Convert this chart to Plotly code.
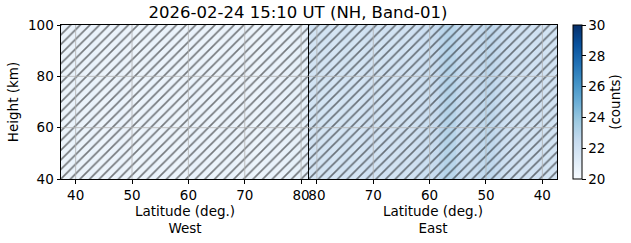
import plotly.graph_objects as go
import plotly.colors as pc

# ---- data ----
title_text = "2026-02-24 15:10 UT (NH, Band-01)"
lat_edges = [37.4 + i for i in range(45)]           # 1-degree latitude bins (edges)
height_edges = [40, 100]                             # single height layer (km)
west_counts = [20.6, 20.6, 20.7, 20.6, 20.6, 20.7, 20.6, 20.5, 20.6, 20.6, 20.7,
               20.6, 20.6, 20.5, 20.6, 20.6, 20.7, 20.6, 20.6, 20.6, 20.5, 20.6,
               20.6, 20.7, 20.6, 20.6, 20.6, 20.5, 20.6, 20.6, 20.7, 20.6, 20.6,
               20.6, 20.5, 20.6, 20.7, 20.7, 20.6, 20.7, 20.8, 20.8, 20.8, 20.9]
east_counts = [21.9, 21.8, 21.9, 22.0, 21.9, 22.0, 21.9, 22.0, 22.1, 22.2, 22.5,
               22.7, 22.8, 22.6, 22.4, 22.3, 22.4, 22.6, 22.9, 23.0, 22.8, 22.5,
               22.3, 22.2, 22.1, 22.0, 21.9, 22.0, 21.8, 21.9, 22.0, 21.8, 21.9,
               22.0, 21.9, 21.7, 21.8, 21.9, 21.8, 21.7, 21.9, 21.8, 21.9, 21.9]
x_ticks = [40, 50, 60, 70, 80]
y_ticks = [40, 60, 80, 100]
cbar_ticks = [20, 22, 24, 26, 28, 30]
z_min, z_max = 20, 30
lat_range = [37.4, 81.4]

blues = pc.sequential.Blues
scale = [[i / (len(blues) - 1), c] for i, c in enumerate(blues)]

FONT = "DejaVu Sans"
fs = 13.5

fig = go.Figure()
fig.add_trace(go.Heatmap(x=lat_edges, y=height_edges, z=[west_counts], colorscale=scale,
                         zmin=z_min, zmax=z_max, xaxis="x", yaxis="y", showscale=False))
fig.add_trace(go.Heatmap(
    x=lat_edges, y=height_edges, z=[east_counts], colorscale=scale,
    zmin=z_min, zmax=z_max, xaxis="x2", yaxis="y2", showscale=True,
    colorbar=dict(thickness=9, thicknessmode="pixels", len=1, lenmode="fraction",
                  x=1.0323, xanchor="left", xpad=0, y=0.5, yanchor="middle", ypad=0,
                  outlinewidth=1, outlinecolor="black", ticks="outside", ticklen=3.5,
                  tickwidth=0.8, tickcolor="black", tickvals=cbar_ticks,
                  tickfont=dict(family=FONT, size=fs, color="black"),
                  title=dict(text="(counts)", side="right",
                             font=dict(family=FONT, size=fs, color="black")))))

# hatching over both panels
box_x = [lat_range[0], lat_range[1], lat_range[1], lat_range[0], lat_range[0]]
box_y = [height_edges[0], height_edges[0], height_edges[1], height_edges[1], height_edges[0]]
for xa, ya in (("x", "y"), ("x2", "y2")):
    fig.add_trace(go.Scatter(x=box_x, y=box_y, xaxis=xa, yaxis=ya, mode="none",
                             fill="toself", fillcolor="rgba(0,0,0,0)",
                             fillpattern=dict(shape="/", fgcolor="black", bgcolor="rgba(0,0,0,0)",
                                              size=6.8, solidity=0.24),
                             showlegend=False, hoverinfo="skip"))

# grid lines above the heatmap
shapes = []
for xr, yr in (("x", "y"), ("x2", "y2")):
    for t in x_ticks:
        shapes.append(dict(type="line", xref=xr, yref=yr + " domain", x0=t, x1=t, y0=0, y1=1,
                           line=dict(color="#b0b0b0", width=0.8), layer="above"))
    for t in y_ticks[1:-1]:
        shapes.append(dict(type="line", xref=xr + " domain", yref=yr, x0=0, x1=1, y0=t, y1=t,
                           line=dict(color="#b0b0b0", width=0.8), layer="above"))

axis_common = dict(showline=True, linecolor="black", linewidth=1, mirror=True,
                   ticks="outside", ticklen=3.5, tickwidth=0.8, tickcolor="black",
                   showgrid=False, zeroline=False,
                   tickfont=dict(family=FONT, size=fs, color="black"))

fig.update_layout(
    width=631, height=243,
    margin=dict(l=61, r=74, t=25, b=64, autoexpand=False),
    paper_bgcolor="white", plot_bgcolor="white",
    font=dict(family=FONT, size=fs, color="black"),
    title=dict(text=title_text, x=298 / 631, xanchor="center", xref="container",
               y=1 - 12 / 243, yanchor="middle", yref="container",
               font=dict(family=FONT, size=16.5, color="black")),
    xaxis=dict(domain=[0, 0.5], range=lat_range, tickvals=x_ticks, anchor="y",
               title=dict(text="Latitude (deg.)<br>West", standoff=4,
                          font=dict(family=FONT, size=fs)), **axis_common),
    xaxis2=dict(domain=[0.5, 1], range=lat_range[::-1], tickvals=x_ticks, anchor="y2",
                title=dict(text="Latitude (deg.)<br>East", standoff=4,
                           font=dict(family=FONT, size=fs)), **axis_common),
    yaxis=dict(domain=[0, 1], range=[40, 100], tickvals=y_ticks, anchor="x",
               title=dict(text="Height (km)", standoff=6, font=dict(family=FONT, size=fs)),
               **axis_common),
    yaxis2=dict(domain=[0, 1], range=[40, 100], matches="y", anchor="x2",
                showticklabels=False, showline=True, linecolor="black", linewidth=1,
                mirror=True, ticks="", showgrid=False, zeroline=False),
    shapes=shapes,
    showlegend=False,
)

fig.write_html("out.html")
